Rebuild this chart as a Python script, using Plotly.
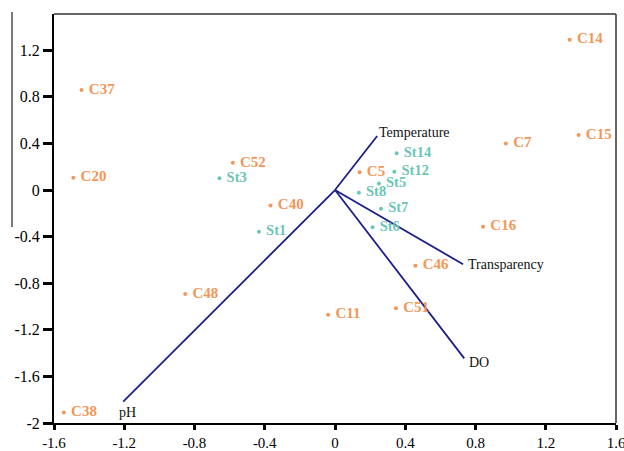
import plotly.graph_objects as go

# Sample / station scores
c_labels = ["C14", "C15", "C7", "C5", "C16", "C46", "C51", "C11", "C38", "C48", "C40", "C52", "C20", "C37"]
c_x = [1.336, 1.387, 0.973, 0.14, 0.843, 0.458, 0.347, -0.039, -1.544, -0.853, -0.367, -0.582, -1.49, -1.443]
c_y = [1.29, 0.472, 0.40, 0.152, -0.315, -0.65, -1.015, -1.07, -1.91, -0.893, -0.133, 0.234, 0.106, 0.858]

st_labels = ["St14", "St12", "St5", "St8", "St7", "St6", "St1", "St3"]
st_x = [0.351, 0.338, 0.25, 0.136, 0.262, 0.214, -0.433, -0.658]
st_y = [0.315, 0.157, 0.055, -0.023, -0.16, -0.32, -0.358, 0.10]

# Environmental vectors
vec_labels = ["Temperature", "Transparency", "DO", "pH"]
vec_x = [0.24, 0.729, 0.736, -1.206]
vec_y = [0.464, -0.637, -1.445, -1.817]

tick_vals_x = [-1.6, -1.2, -0.8, -0.4, 0, 0.4, 0.8, 1.2, 1.6]
tick_vals_y = [-2, -1.6, -1.2, -0.8, -0.4, 0, 0.4, 0.8, 1.2]

ORANGE = "#F29758"
TEAL = "#6CC6B6"
NAVY = "#1B1F8A"
SERIF = "Liberation Serif"

fig = go.Figure()

for lab, vx, vy in zip(vec_labels, vec_x, vec_y):
    fig.add_trace(go.Scatter(x=[0, vx], y=[0, vy], mode="lines",
                             line=dict(color=NAVY, width=1.8), hoverinfo="skip"))

fig.add_trace(go.Scatter(x=c_x, y=c_y, mode="markers+text", text=[" " + t for t in c_labels],
                         textposition="middle right",
                         marker=dict(color=ORANGE, size=4),
                         textfont=dict(color=ORANGE, size=15, family=SERIF, weight="bold")))
fig.add_trace(go.Scatter(x=st_x, y=st_y, mode="markers+text", text=[" " + t for t in st_labels],
                         textposition="middle right",
                         marker=dict(color=TEAL, size=4),
                         textfont=dict(color=TEAL, size=14.5, family=SERIF, weight="bold")))

shifts = {"Temperature": (0, 3, "left", "middle"),
          "Transparency": (3, 0, "left", "middle"),
          "DO": (3, -4, "left", "middle"),
          "pH": (4, -1, "center", "top")}
for lab, vx, vy in zip(vec_labels, vec_x, vec_y):
    dx, dy, xa, ya = shifts[lab]
    fig.add_annotation(x=vx, y=vy, text=lab, showarrow=False, xanchor=xa, yanchor=ya,
                       xshift=dx, yshift=dy,
                       font=dict(color="#111111", size=14, family=SERIF))

# thin top/right frame
fig.add_shape(type="line", xref="paper", yref="paper", x0=0, x1=1, y0=1, y1=1,
              line=dict(color="#333333", width=1.5))
fig.add_shape(type="line", xref="paper", yref="paper", x0=1, x1=1, y0=0, y1=1,
              line=dict(color="#333333", width=1.5))
# stray vertical line at far left
fig.add_shape(type="line", xref="paper", yref="paper", x0=-0.0747, x1=-0.0747, y0=0.479, y1=1.005,
              line=dict(color="#222222", width=1.2))

fig.update_layout(
    width=624, height=451,
    margin=dict(l=54, r=8, t=14, b=28, autoexpand=False),
    paper_bgcolor="white", plot_bgcolor="white",
    showlegend=False,
    font=dict(family=SERIF, size=16, color="black"),
)
fig.update_xaxes(range=[-1.6, 1.6], tickvals=tick_vals_x,
                 ticktext=[("%g" % v) for v in tick_vals_x], automargin=False,
                 ticklabeloverflow="allow",
                 showgrid=False, zeroline=False, showline=True, linecolor="black", linewidth=2,
                 ticks="outside", ticklen=5, tickwidth=3, tickcolor="black",
                 tickfont=dict(size=15, family=SERIF, color="black"))
fig.update_yaxes(range=[-2, 1.511], tickvals=tick_vals_y,
                 ticktext=[("%g" % v) for v in tick_vals_y], automargin=False,
                 ticklabeloverflow="allow",
                 showgrid=False, zeroline=False, showline=True, linecolor="black", linewidth=2,
                 ticks="outside", ticklen=9, tickwidth=3, tickcolor="black",
                 tickfont=dict(size=16, family=SERIF, color="black"))

fig.write_html("out.html")
